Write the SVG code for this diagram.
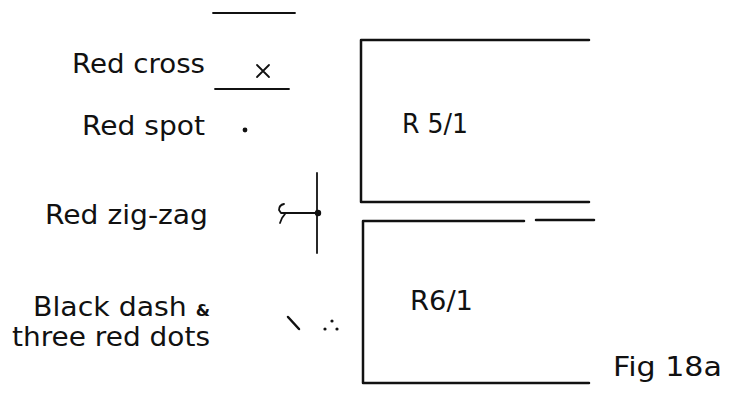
<svg xmlns="http://www.w3.org/2000/svg" width="730" height="394" viewBox="0 0 730 394">
<style>
text{font-family:"DejaVu Sans","Liberation Sans",sans-serif;font-size:26px;fill:#111}
.ln{stroke:#111;stroke-width:2.5;fill:none;stroke-linecap:round;stroke-linejoin:round}
.th{stroke:#111;stroke-width:1.8;fill:none;stroke-linecap:round;stroke-linejoin:round}
</style>
<rect width="730" height="394" fill="#fff"/>
<g id="legend-cross">
<line class="th" x1="213" y1="13" x2="295" y2="13"/>
<text x="72" y="73" textLength="133" lengthAdjust="spacingAndGlyphs">Red cross</text>
<path class="th" d="M257 65 L269 77 M269 65 L257 77"/>
<line class="th" x1="215" y1="89" x2="289" y2="89"/>
</g>
<g id="legend-spot">
<text x="82" y="135" textLength="123" lengthAdjust="spacingAndGlyphs">Red spot</text>
<circle cx="245" cy="130" r="2.4" fill="#111"/>
</g>
<g id="legend-zigzag">
<text x="45" y="224" textLength="163" lengthAdjust="spacingAndGlyphs">Red zig-zag</text>
<line class="th" x1="317" y1="173" x2="317" y2="253"/>
<path class="th" d="M284 204 Q279 205 279 210 L281 213 L318 213 M285 214 L282 218 L280 223"/>
<circle cx="318" cy="213" r="3.2" fill="#111"/>
</g>
<g id="legend-dash">
<text x="33" y="316" textLength="177" lengthAdjust="spacingAndGlyphs">Black dash <tspan font-size="15" font-weight="bold">&amp;</tspan></text>
<text x="12" y="346" textLength="198" lengthAdjust="spacingAndGlyphs">three red dots</text>
<line class="ln" x1="288" y1="317" x2="299" y2="329"/>
<circle cx="332" cy="321" r="1.6" fill="#111"/>
<circle cx="325" cy="329" r="1.6" fill="#111"/>
<circle cx="337" cy="329" r="1.6" fill="#111"/>
</g>
<g id="R5">
<path class="ln" d="M589 40 L361 40 L361 202 L589 202"/>
<text x="402" y="133" textLength="66" lengthAdjust="spacingAndGlyphs">R 5/1</text>
</g>
<g id="R6">
<path class="ln" d="M524 221 L363 221 L363 383 L589 383"/>
<line class="ln" x1="536" y1="220" x2="594" y2="220"/>
<text x="410" y="310" textLength="63" lengthAdjust="spacingAndGlyphs">R6/1</text>
</g>
<g id="caption">
<text x="613" y="376" textLength="109" lengthAdjust="spacingAndGlyphs">Fig 18a</text>
</g>
<g id="connectors"></g>
</svg>
